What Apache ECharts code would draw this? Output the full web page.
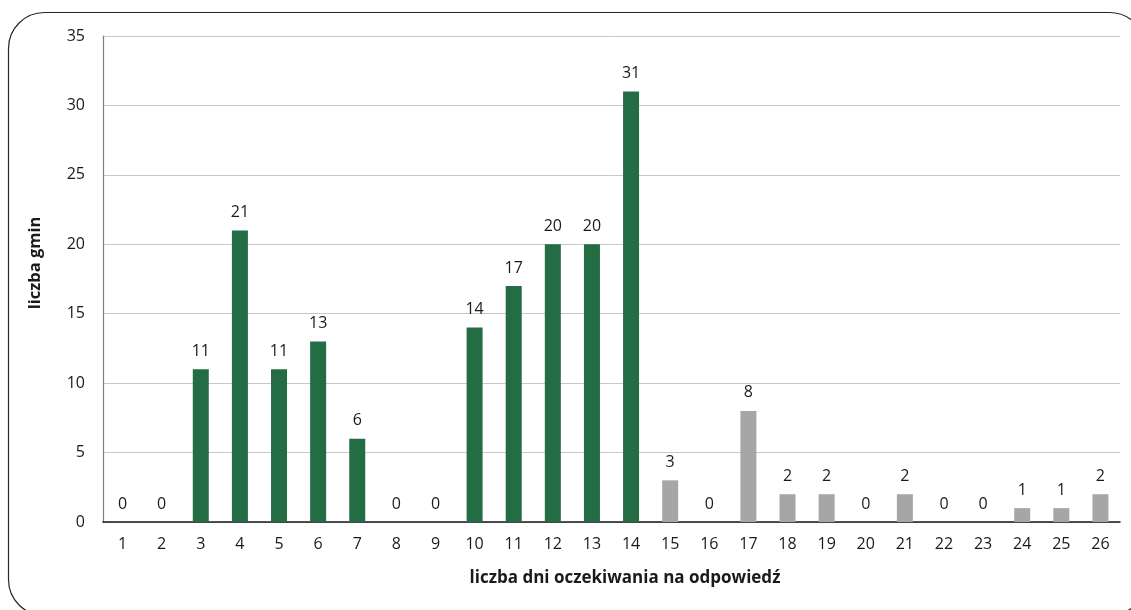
<!DOCTYPE html>
<html>
<head>
<meta charset="utf-8">
<script src="https://cdn.jsdelivr.net/npm/echarts@6/dist/echarts.min.js"></script>
<style>
  html, body { margin: 0; padding: 0; background: #fff; }
  #chart { width: 1131px; height: 610px; }
</style>
</head>
<body>
<div id="chart"></div>
<script>
// Days waited for a reply (categories) and number of municipalities per day
const days = ['1','2','3','4','5','6','7','8','9','10','11','12','13','14','15','16','17','18','19','20','21','22','23','24','25','26'];
const gminCounts = [0, 0, 11, 21, 11, 13, 6, 0, 0, 14, 17, 20, 20, 31, 3, 0, 8, 2, 2, 0, 2, 0, 0, 1, 1, 2];
// Days 1–14 drawn in green, later days in grey
const lastGreenDay = 14;
const yTicks = { min: 0, max: 35, interval: 5 };
const xTitle = 'liczba dni oczekiwania na odpowiedź';
const yTitle = 'liczba gmin';

const GREEN = '#236c44';
const GREY = '#a6a6a6';
const TEXT = '#1a1a1a';
const FONT = '"Open Sans", "Noto Sans", sans-serif';

const chart = echarts.init(document.getElementById('chart'), null, { renderer: 'canvas' });

chart.setOption({
  animation: false,
  textStyle: { fontFamily: FONT },
  graphic: [
    {
      // rounded frame around the whole chart
      type: 'rect',
      shape: { x: 8.5, y: 12.5, width: 1137, height: 603, r: 36 },
      style: { fill: 'none', stroke: '#262626', lineWidth: 1.2 },
      silent: true
    },
    {
      type: 'text',
      x: 625, y: 578,
      style: {
        text: xTitle, fontFamily: FONT, fontSize: 17, fontWeight: 'bold',
        fill: TEXT, align: 'center', verticalAlign: 'middle'
      },
      silent: true
    },
    {
      type: 'text',
      x: 35, y: 263,
      rotation: Math.PI / 2,
      style: {
        text: yTitle, fontFamily: FONT, fontSize: 16.5, fontWeight: 'bold',
        fill: TEXT, align: 'center', verticalAlign: 'middle'
      },
      silent: true
    }
  ],
  grid: { left: 103, right: 11, top: 36, bottom: 88 },
  xAxis: {
    type: 'category',
    data: days,
    axisLine: { lineStyle: { color: TEXT, width: 1.5 } },
    axisTick: { show: false },
    axisLabel: { fontFamily: FONT, fontSize: 16, color: TEXT, margin: 14 }
  },
  yAxis: {
    type: 'value',
    min: yTicks.min,
    max: yTicks.max,
    interval: yTicks.interval,
    axisLine: { show: true, lineStyle: { color: '#7f7f7f', width: 1.2 } },
    axisTick: { show: false },
    axisLabel: { fontFamily: FONT, fontSize: 16, color: TEXT, margin: 18 },
    splitLine: { lineStyle: { color: '#c8c8c8', width: 1 } }
  },
  series: [{
    type: 'bar',
    barWidth: 16,
    data: gminCounts.map((v, i) => ({
      value: v,
      itemStyle: { color: Number(days[i]) <= lastGreenDay ? GREEN : GREY }
    })),
    label: {
      show: true,
      position: 'top',
      distance: 10,
      fontFamily: FONT,
      fontSize: 16,
      color: TEXT
    }
  }]
});
</script>
</body>
</html>
